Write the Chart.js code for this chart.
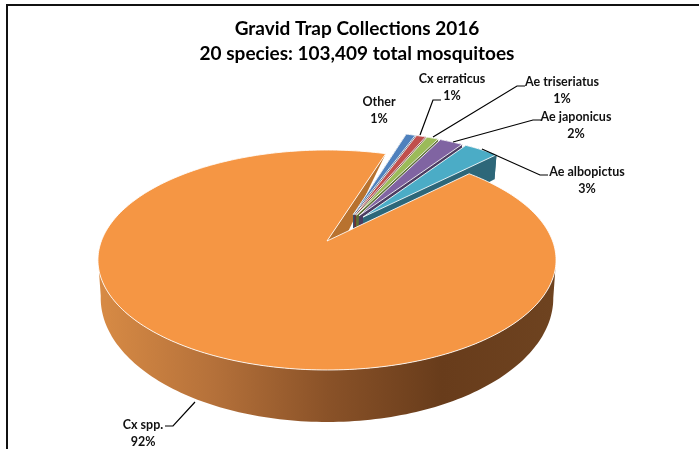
<!DOCTYPE html>
<html>
<head>
<meta charset="utf-8">
<script src="https://cdnjs.cloudflare.com/ajax/libs/Chart.js/4.4.0/chart.umd.min.js"></script>
<style>
  html, body { margin: 0; width: 699px; height: 449px; overflow: hidden; background: #fff; }
  #frame { position: absolute; left: 6px; top: 4px; width: 720px; height: 480px;
           border: 2px solid #111; box-shadow: 1px 1px 0 #999; }
  #wrap { position: absolute; left: 7px; top: 6px; width: 700px; height: 460px; }
</style>
</head>
<body>
<div id="frame"></div>
<div id="wrap"><canvas id="chart"></canvas></div>
<script>
const categories = ["Cx spp.", "Other", "Cx erraticus", "Ae triseriatus", "Ae japonicus", "Ae albopictus"];
const percents = [92.4, 0.8, 0.8, 1, 2, 3];
const topColors = ["#F59644", "#4F81BD", "#C0504D", "#9BBB59", "#8064A2", "#4BACC6"];
const wallColors = ["#B8722F", "#2F4D71", "#73302E", "#5D7035", "#4C3C61", "#2D6779"];
const chartTitle = ["Gravid Trap Collections 2016", "20 species: 103,409 total mosquitoes"];

// where Excel put each label: text centre, then leader line (null = no leader)
const labelSpots = [
  { x: 143, y: 425, leader: [[165, 426], [173, 426], [195, 402]] },
  { x: 379, y: 102, leader: null },
  { x: 452, y: 79, leader: [[441, 100], [433, 100], [420, 135]] },
  { x: 562, y: 82, leader: [[525, 86], [517, 86], [433, 137]] },
  { x: 576, y: 117, leader: [[541, 120], [533, 120], [453, 142]] },
  { x: 587, y: 172, leader: [[548, 175], [540, 175], [482, 149]] },
];

// perspective fit of the tilted disc, screen px relative to the chart canvas
const canvasLeft = 7, canvasTop = 6;
const view = { cx: 327, cy: 241, a: 225.6, b: 106.7, p: 0.1727 };

function project(u, v) {
  const w = 1 - view.p * v;
  return { x: view.cx + view.a * u / w, y: view.cy + view.b * v / w };
}

function drop(pt) {
  // same point on the underside of the pie
  const depth = 52 + 0.127 * (pt.y - 370);
  return { x: view.cx + (pt.x - view.cx) * 0.988, y: pt.y + depth };
}

function sliceGeom(arc, origin) {
  const mid = (arc.startAngle + arc.endAngle) / 2;
  const e = arc.options.offset / arc.outerRadius;
  const ox = Math.cos(mid) * e - origin.u, oy = Math.sin(mid) * e - origin.v;
  const rim = [];
  const steps = Math.max(4, Math.ceil((arc.endAngle - arc.startAngle) / 0.02));
  for (let i = 0; i <= steps; i++) {
    const a = arc.startAngle + (arc.endAngle - arc.startAngle) * i / steps;
    rim.push(project(ox + Math.cos(a), oy + Math.sin(a)));
  }
  return { apex: project(ox, oy), rim };
}

function poly(ctx, pts, fill) {
  ctx.beginPath();
  pts.forEach((p, i) => i ? ctx.lineTo(p.x, p.y) : ctx.moveTo(p.x, p.y));
  ctx.closePath();
  ctx.fillStyle = fill;
  ctx.fill();
}

function drawTop(ctx, g, fill) {
  poly(ctx, [g.apex, ...g.rim], fill);
  ctx.strokeStyle = "rgba(255,255,255,0.85)";
  ctx.lineWidth = 1;
  ctx.stroke();
}

function drawSmallSlice(ctx, g, wall, fill) {
  const rimLow = g.rim.map(drop);
  const apexLow = drop(g.apex);
  poly(ctx, [g.apex, g.rim[0], rimLow[0], apexLow], wall);
  poly(ctx, [g.apex, g.rim[g.rim.length - 1], rimLow[rimLow.length - 1], apexLow], wall);
  poly(ctx, [...g.rim, ...rimLow.slice().reverse()], wall);
  drawTop(ctx, g, fill);
}

const pie3d = {
  id: "pie3d",
  beforeDatasetsDraw(chart) {
    const ctx = chart.ctx;
    const arcs = chart.getDatasetMeta(0).data;
    const big = arcs[0];
    const bigMid = (big.startAngle + big.endAngle) / 2;
    const bigE = big.options.offset / big.outerRadius;
    const origin = { u: Math.cos(bigMid) * bigE, v: Math.sin(bigMid) * bigE };

    ctx.save();
    ctx.translate(-canvasLeft, -canvasTop);

    const bigG = sliceGeom(big, origin);
    // cut face of the big slice shows behind the small ones
    const end = bigG.rim[bigG.rim.length - 1];
    poly(ctx, [bigG.apex, end, { x: bigG.apex.x + 4, y: bigG.apex.y + 26 }], wallColors[0]);

    for (let i = 1; i < arcs.length; i++) {
      drawSmallSlice(ctx, sliceGeom(arcs[i], origin), wallColors[i], topColors[i]);
    }

    const shade = ctx.createLinearGradient(98, 0, 556, 0);
    shade.addColorStop(0, "#D88B45");
    shade.addColorStop(0.25, "#B5713A");
    shade.addColorStop(0.5, "#8A5228");
    shade.addColorStop(0.75, "#683C1B");
    shade.addColorStop(1, "#6E4320");
    // only the front of the rim, the back wall is hidden in the real thing
    const front = bigG.rim.filter(p => p.y >= 258);
    poly(ctx, [...front, ...front.map(drop).reverse()], shade);
    drawTop(ctx, bigG, topColors[0]);

    drawLabels(ctx);
    ctx.restore();
    return false;
  },
};

function drawLabels(ctx) {
  const total = percents.reduce((s, v) => s + v, 0);
  ctx.font = "bold 12.5px Lato";
  ctx.fillStyle = "#111";
  ctx.textAlign = "center";
  ctx.textBaseline = "middle";
  categories.forEach((name, i) => {
    const spot = labelSpots[i];
    ctx.fillText(name, spot.x, spot.y);
    ctx.fillText(Math.round(percents[i] / total * 100) + "%", spot.x, spot.y + 17);
    if (spot.leader) {
      ctx.beginPath();
      spot.leader.forEach((p, k) => k ? ctx.lineTo(p[0], p[1]) : ctx.moveTo(p[0], p[1]));
      ctx.strokeStyle = "#000";
      ctx.lineWidth = 1.2;
      ctx.stroke();
    }
  });
}

new Chart(document.getElementById("chart"), {
  type: "pie",
  data: {
    labels: categories,
    datasets: [{ data: percents, backgroundColor: topColors, offset: 26 }],
  },
  options: {
    responsive: true,
    maintainAspectRatio: false,
    animation: false,
    rotation: 45,
    plugins: {
      legend: { display: false },
      tooltip: { enabled: false },
      title: {
        display: true,
        text: chartTitle,
        color: "#000",
        font: { family: "Lato", size: 19, weight: "bold", lineHeight: 1.32 },
        padding: { top: 10, bottom: 10 },
      },
    },
  },
  plugins: [pie3d],
});
</script>
</body>
</html>
